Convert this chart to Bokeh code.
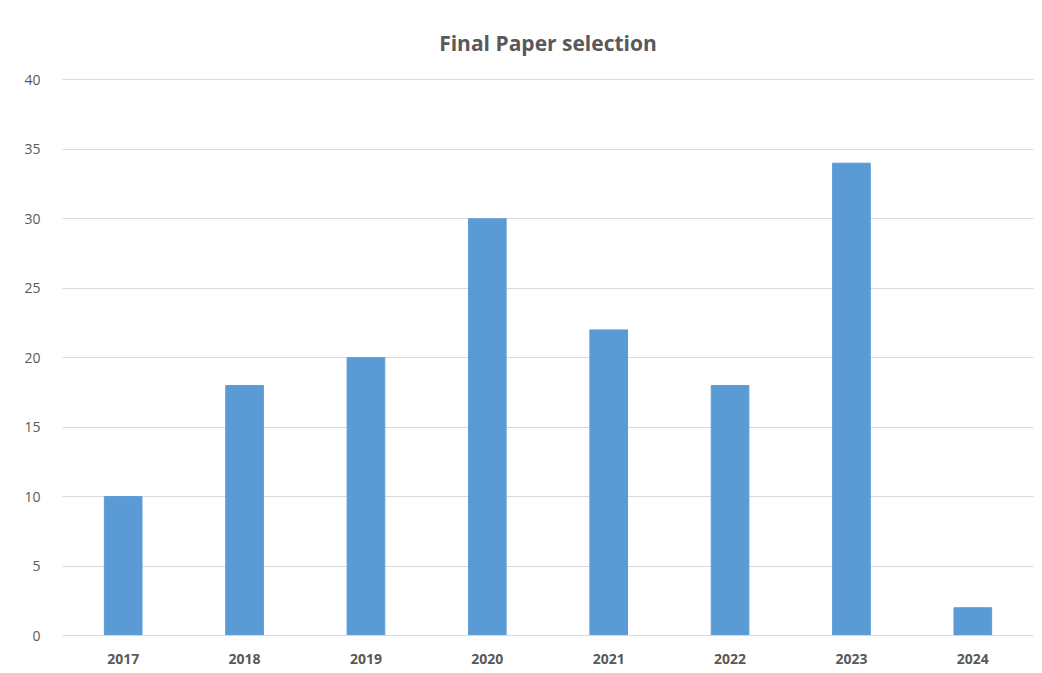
from bokeh.plotting import figure
from bokeh.models import Range1d, FixedTicker
from bokeh.embed import file_html
from bokeh.resources import INLINE

years = ["2017", "2018", "2019", "2020", "2021", "2022", "2023", "2024"]
papers = [10, 18, 20, 30, 22, 18, 34, 2]
y_ticks = [0, 5, 10, 15, 20, 25, 30, 35, 40]

FONT = "Open Sans"
GREY = "#595959"

p = figure(x_range=years, y_range=Range1d(0, 40.1), width=1042, height=673,
           output_backend="svg", toolbar_location=None,
           min_border_left=62, min_border_right=9, min_border_top=78, min_border_bottom=38)

p.vbar(x=years, top=papers, width=0.31, fill_color="#5B9BD5", line_color="#5B9BD5")

p.title.text = "Final Paper selection"
p.title.align = "center"
p.title.text_font = FONT
p.title.text_font_size = "21px"
p.title.text_font_style = "bold"
p.title.text_color = GREY
p.title.standoff = 43

p.outline_line_color = None
p.xgrid.grid_line_color = None
p.ygrid.grid_line_color = "#d9d9d9"
p.ygrid.grid_line_width = 1

p.yaxis.ticker = FixedTicker(ticks=y_ticks)
p.yaxis.axis_line_color = None
p.yaxis.major_tick_line_color = None
p.yaxis.minor_tick_line_color = None
p.yaxis.major_label_text_font = FONT
p.yaxis.major_label_text_font_size = "14px"
p.yaxis.major_label_text_color = GREY
p.yaxis.major_label_standoff = 16

p.xaxis.axis_line_color = "#d9d9d9"
p.xaxis.major_tick_line_color = None
p.xaxis.minor_tick_line_color = None
p.xaxis.major_label_text_font = FONT
p.xaxis.major_label_text_font_size = "14px"
p.xaxis.major_label_text_font_style = "bold"
p.xaxis.major_label_text_color = GREY
p.xaxis.major_label_standoff = 12

p.x_range.range_padding = 0

open("out.html", "w").write(file_html(p, INLINE))
